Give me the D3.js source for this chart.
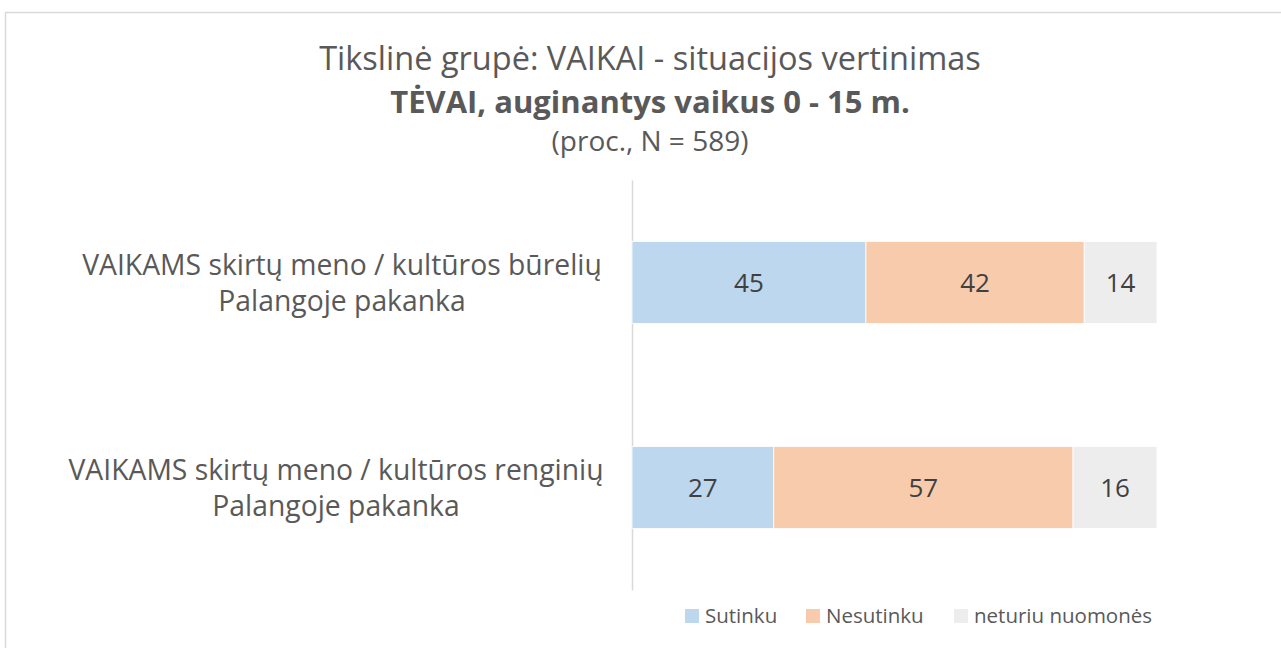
<!DOCTYPE html>
<html>
<head>
<meta charset="utf-8">
<script src="https://cdn.jsdelivr.net/npm/d3@7"></script>
<style>
  body { margin: 0; background: #fff; }
  svg text { font-family: "Open Sans", "Noto Sans", sans-serif; }
</style>
</head>
<body>
<div class="chart"></div>
<script>
// data
var categories = [
  ["VAIKAMS skirtų meno / kultūros būrelių", "Palangoje pakanka"],
  ["VAIKAMS skirtų meno / kultūros renginių", "Palangoje pakanka"]
];
var seriesNames = ["Sutinku", "Nesutinku", "neturiu nuomonės"];
var sutinku = [45, 27];
var nesutinku = [42, 57];
var neturiu = [14, 16];
var colors = ["#BDD7EE", "#F8CBAD", "#EDEDED"];

var W = 1281, H = 648;
var svg = d3.select(".chart").append("svg").attr("width", W).attr("height", H);

// frame
svg.append("rect")
  .attr("x", 5.5).attr("y", 12.5)
  .attr("width", W + 10).attr("height", H + 10)
  .attr("fill", "#fff").attr("stroke", "#D9D9D9").attr("stroke-width", 1.5);

// titles
var cx = 650;
svg.append("text").attr("x", cx).attr("y", 70).attr("text-anchor", "middle")
  .style("font-size", "32.5px").style("fill", "#595959")
  .text("Tikslinė grupė: VAIKAI - situacijos vertinimas");
svg.append("text").attr("x", cx).attr("y", 113).attr("text-anchor", "middle")
  .style("font-size", "31px").style("font-weight", "bold").style("fill", "#595959")
  .text("TĖVAI, auginantys vaikus 0 - 15 m.");
svg.append("text").attr("x", cx).attr("y", 151).attr("text-anchor", "middle")
  .style("font-size", "28px").style("fill", "#595959")
  .text("(proc., N = 589)");

// stacked rows (100% per row)
var rows = categories.map(function (c, i) {
  return { idx: i, a: sutinku[i], b: nesutinku[i], c: neturiu[i] };
});
var stack = d3.stack().keys(["a", "b", "c"]).offset(d3.stackOffsetExpand);
var series = stack(rows);
var values = [sutinku, nesutinku, neturiu];

var x = d3.scaleLinear().domain([0, 1]).range([632, 1157]);
var y = d3.scaleBand().domain(d3.range(categories.length)).range([180, 590]).paddingInner(0.6).paddingOuter(0.3);

// axis line
svg.append("g")
  .attr("transform", "translate(" + 632 + ",0)")
  .call(d3.axisLeft(y).tickSize(0).tickFormat(""))
  .call(function (g) { g.select(".domain").attr("stroke", "#D9D9D9").attr("stroke-width", 1.5); });

var groups = svg.selectAll(".series").data(series).enter().append("g")
  .attr("class", "series").attr("fill", function (d, i) { return colors[i]; });

groups.selectAll("rect").data(function (d) { return d; }).enter().append("rect")
  .attr("x", function (d) { return x(d[0]); })
  .attr("y", function (d) { return y(d.data.idx); })
  .attr("width", function (d) { return x(d[1]) - x(d[0]); })
  .attr("height", y.bandwidth())
  .attr("stroke", "#fff").attr("stroke-width", 0.8);

groups.each(function (s, si) {
  d3.select(this).selectAll("text").data(s).enter().append("text")
    .attr("x", function (d) { return (x(d[0]) + x(d[1])) / 2; })
    .attr("y", function (d) { return y(d.data.idx) + y.bandwidth() / 2; })
    .attr("dy", "0.36em")
    .attr("text-anchor", "middle")
    .style("font-size", "26px").style("fill", "#404040")
    .text(function (d) { return values[si][d.data.idx]; });
});

// category labels (lines centred under each other)
categories.forEach(function (lines, i) {
  var t = svg.append("text").attr("text-anchor", "middle")
    .style("font-size", "28.3px").style("fill", "#595959");
  var mid = y(i) + y.bandwidth() / 2;
  var cxLab = i === 0 ? 342 : 336;
  lines.forEach(function (ln, k) {
    t.append("tspan").attr("x", cxLab).attr("y", mid - 8 + k * 36).text(ln);
  });
});

// legend
var legX = [685, 806, 954];
var leg = svg.selectAll(".leg").data(seriesNames).enter().append("g")
  .attr("class", "leg")
  .attr("transform", function (d, i) { return "translate(" + legX[i] + ",609)"; });
leg.append("rect").attr("width", 14).attr("height", 14)
  .attr("fill", function (d, i) { return colors[i]; });
leg.append("text").attr("x", 20).attr("y", 7).attr("dy", "0.36em")
  .style("font-size", "20.5px").style("fill", "#595959")
  .text(function (d) { return d; });
</script>
</body>
</html>
